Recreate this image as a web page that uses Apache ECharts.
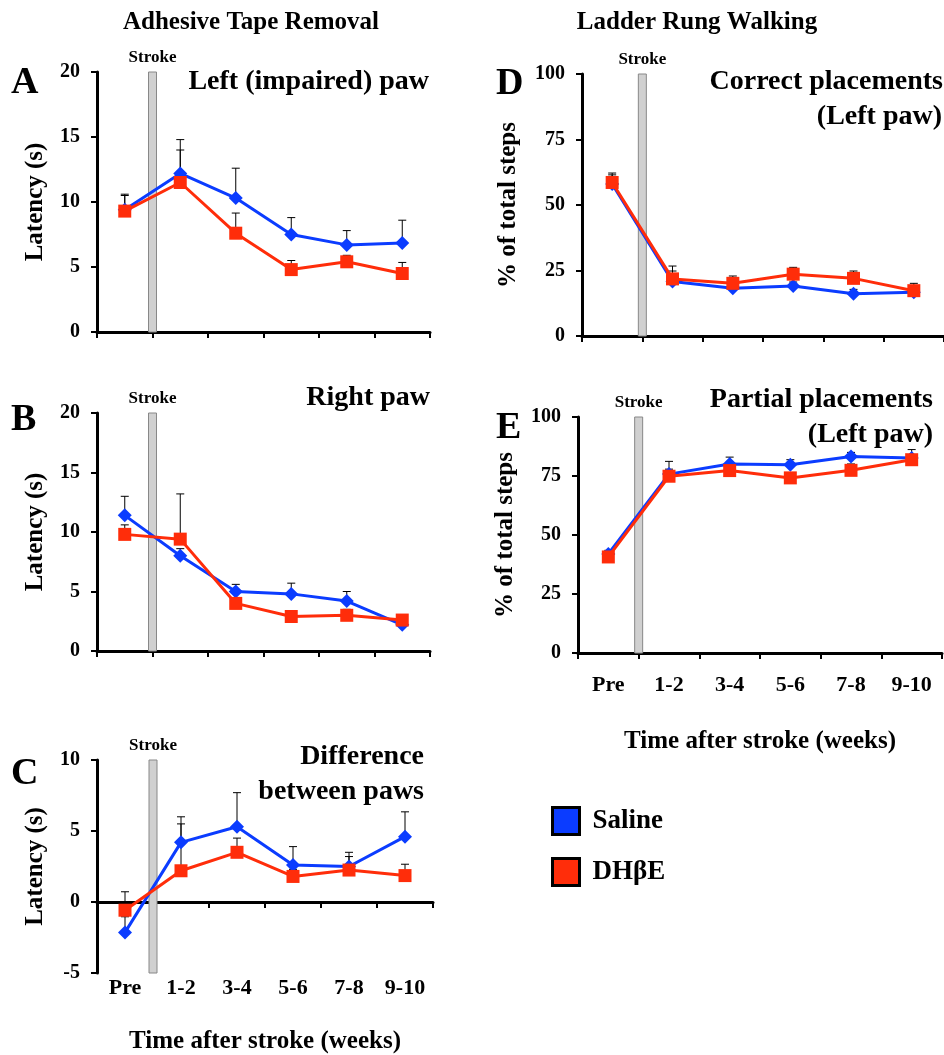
<!DOCTYPE html>
<html lang="en">
<head>
    <meta charset="UTF-8">
    <title>Stroke recovery</title>
    <script src="https://cdn.jsdelivr.net/npm/echarts@6/dist/echarts.min.js"></script>
    <style>
        body { margin: 0; background: #fff; }
    </style>
</head>
<body>
    <div id="main" style="width: 944px; height: 1055px;"></div>
    <script>
    // categories (weeks after stroke)
    var categories = ['Pre', '1-2', '3-4', '5-6', '7-8', '9-10'];
    var strokeAt = 1; // stroke falls between Pre and 1-2

    // A - adhesive tape removal, left (impaired) paw
    var aSaline = [9.4, 12.2, 10.3, 7.5, 6.7, 6.85];
    var aSalineErr = [1.2, 2.6, 2.3, 1.3, 1.1, 1.75];
    var aDhbe = [9.3, 11.5, 7.6, 4.8, 5.4, 4.5];
    var aDhbeErr = [1.2, 2.5, 1.55, 0.7, 0.5, 0.85];

    // B - right paw
    var bSaline = [11.4, 8.0, 5.0, 4.8, 4.2, 2.2];
    var bSalineErr = [1.6, 0.6, 0.6, 0.9, 0.8, 0.3];
    var bDhbe = [9.8, 9.4, 4.0, 2.9, 3.0, 2.6];
    var bDhbeErr = [0.8, 3.8, 0.4, 0.3, 0.5, 0.3];

    // C - difference between paws
    var cSaline = [-2.14, 4.2, 5.3, 2.6, 2.5, 4.6];
    var cSalineErr = [1.1, 1.8, 2.4, 1.3, 1.0, 1.75];
    var cDhbe = [-0.58, 2.2, 3.5, 1.8, 2.25, 1.86];
    var cDhbeErr = [1.3, 3.3, 1.0, 0.5, 0.95, 0.8];

    // D - ladder rung, correct placements
    var dSaline = [58, 20.8, 18.2, 19.1, 16.1, 16.7];
    var dSalineErr = [3.5, 4, 1.2, 1.5, 1.7, 2];
    var dDhbe = [58.6, 21.8, 20.1, 23.6, 22.0, 17.3];
    var dDhbeErr = [3.6, 4.9, 2.8, 2.6, 2.8, 2.8];

    // E - ladder rung, partial placements
    var eSaline = [42, 75.8, 80.1, 79.8, 83.3, 82.6];
    var eSalineErr = [1.5, 5.4, 2.9, 2.1, 1.7, 3.6];
    var eDhbe = [40.7, 74.9, 77.3, 74.2, 77.4, 81.9];
    var eDhbeErr = [1.5, 3, 1.5, 1.5, 2.7, 2];

    var seriesNames = ['Saline', 'DH\u03b2E'];
    var serif = '"Liberation Serif", "DejaVu Serif", serif';
    var blue = '#0b3cff';
    var red = '#ff2d0a';

    var panels = [
        { grid: { left: 97, top: 72, width: 333, height: 260 }, min: 0, max: 20, step: 5,
          s: aSaline, se: aSalineErr, d: aDhbe, de: aDhbeErr, yName: 'Latency (s)', yGap: 49 },
        { grid: { left: 97, top: 413, width: 333, height: 238 }, min: 0, max: 20, step: 5,
          s: bSaline, se: bSalineErr, d: bDhbe, de: bDhbeErr, yName: 'Latency (s)', yGap: 49 },
        { grid: { left: 97, top: 760, width: 336, height: 215 }, min: -5, max: 10, step: 5,
          s: cSaline, se: cSalineErr, d: cDhbe, de: cDhbeErr, yName: 'Latency (s)', yGap: 49,
          labels: true, labelMargin: 4, xGap: 56 },
        { grid: { left: 582, top: 74, width: 368, height: 262 }, min: 0, max: 100, step: 25,
          s: dSaline, se: dSalineErr, d: dDhbe, de: dDhbeErr, yName: '% of total steps', yGap: 61 },
        { grid: { left: 578, top: 417, width: 364, height: 236 }, min: 0, max: 100, step: 25,
          s: eSaline, se: eSalineErr, d: eDhbe, de: eDhbeErr, yName: '% of total steps', yGap: 60,
          labels: true, labelMargin: 21, xGap: 76 }
    ];

    function strokeItem(params, api) {
        var bottom = api.coord([api.value(0), api.value(1)]);
        var top = api.coord([api.value(0), api.value(2)]);
        return {
            type: 'group',
            children: [{
                type: 'rect',
                shape: { x: bottom[0] - 4, y: top[1], width: 8, height: bottom[1] - top[1] },
                style: { fill: '#d0d0d0', stroke: '#888', lineWidth: 1 }
            }, {
                type: 'text',
                style: { text: 'Stroke', x: bottom[0], y: top[1] - 6, align: 'center', verticalAlign: 'bottom',
                         font: 'bold 17px ' + serif, fill: '#000' }
            }]
        };
    }

    function errItem(params, api) {
        var p = api.coord([api.value(0), api.value(1)]);
        var t = api.coord([api.value(0), api.value(1) + api.value(2)]);
        return {
            type: 'group',
            children: [{
                type: 'line',
                shape: { x1: p[0], y1: p[1], x2: t[0], y2: t[1] },
                style: { stroke: '#000', lineWidth: 1 }
            }, {
                type: 'line',
                shape: { x1: t[0] - 4, y1: t[1], x2: t[0] + 4, y2: t[1] },
                style: { stroke: '#000', lineWidth: 1 }
            }]
        };
    }

    var grids = [], xAxes = [], yAxes = [], series = [];
    panels.forEach(function (p, i) {
        grids.push(p.grid);
        var catIdx = xAxes.length;
        xAxes.push({
            type: 'category', gridIndex: i, data: categories, boundaryGap: true,
            axisLine: { onZero: true, lineStyle: { color: '#000', width: 3 } },
            axisTick: { show: true, length: 6, lineStyle: { color: '#000', width: 2 } },
            axisLabel: { show: false }
        });
        var valIdx = xAxes.length;
        xAxes.push({ type: 'value', gridIndex: i, min: 0, max: categories.length, show: false });
        if (p.labels) {
            xAxes.push({
                type: 'category', gridIndex: i, data: categories, position: 'bottom',
                axisLine: { show: false, onZero: false }, axisTick: { show: false },
                axisLabel: { show: true, margin: p.labelMargin, color: '#000',
                             fontFamily: serif, fontWeight: 'bold', fontSize: 22 },
                name: 'Time after stroke (weeks)', nameLocation: 'middle', nameGap: p.xGap,
                nameTextStyle: { color: '#000', fontFamily: serif, fontWeight: 'bold', fontSize: 25 }
            });
        }
        yAxes.push({
            type: 'value', gridIndex: i, min: p.min, max: p.max, interval: p.step,
            axisLine: { show: true, lineStyle: { color: '#000', width: 3 } },
            axisTick: { show: true, length: 6, lineStyle: { color: '#000', width: 2 } },
            splitLine: { show: false },
            axisLabel: { color: '#000', fontFamily: serif, fontWeight: 'bold', fontSize: 20, margin: 17 },
            name: p.yName, nameLocation: 'middle', nameGap: p.yGap, nameRotate: 90,
            nameTextStyle: { color: '#000', fontFamily: serif, fontWeight: 'bold', fontSize: 25 }
        });
        series.push({
            type: 'custom', xAxisIndex: valIdx, yAxisIndex: i, z: 1,
            renderItem: strokeItem, data: [[strokeAt, p.min, p.max]], silent: true
        });
        [[p.s, p.se], [p.d, p.de]].forEach(function (pair) {
            series.push({
                type: 'custom', xAxisIndex: catIdx, yAxisIndex: i, z: 2, silent: true,
                renderItem: errItem,
                data: pair[0].map(function (v, j) { return [j, v, pair[1][j]]; })
            });
        });
        series.push({
            name: seriesNames[0], type: 'line', xAxisIndex: catIdx, yAxisIndex: i, z: 3,
            data: p.s, symbol: 'diamond', symbolSize: 14,
            itemStyle: { color: blue }, lineStyle: { color: blue, width: 3 }
        });
        series.push({
            name: seriesNames[1], type: 'line', xAxisIndex: catIdx, yAxisIndex: i, z: 4,
            data: p.d, symbol: 'rect', symbolSize: 13,
            itemStyle: { color: red }, lineStyle: { color: red, width: 3 }
        });
    });

    function txt(str, x, y, size, align) {
        return {
            type: 'text', x: x, y: y,
            style: { text: str, align: align || 'left', verticalAlign: 'middle',
                     font: 'bold ' + size + 'px ' + serif, fill: '#000' }
        };
    }

    var myChart = echarts.init(document.getElementById('main'));
    var option = {
        animation: false,
        backgroundColor: '#fff',
        grid: grids,
        xAxis: xAxes,
        yAxis: yAxes,
        legend: {
            data: seriesNames, orient: 'vertical', left: 546, top: 801,
            icon: 'rect', itemWidth: 27, itemHeight: 27, itemGap: 21, selectedMode: false,
            itemStyle: { borderColor: '#000', borderWidth: 3 },
            textStyle: { color: '#000', fontFamily: serif, fontWeight: 'bold', fontSize: 27, padding: [0, 0, 0, 8] }
        },
        graphic: [
            txt('Adhesive Tape Removal', 251, 23, 25, 'center'),
            txt('Ladder Rung Walking', 697, 23, 25, 'center'),
            txt('A', 11, 83, 38), txt('B', 11, 420, 38), txt('C', 11, 774, 38),
            txt('D', 496, 84, 38), txt('E', 496, 428, 38),
            txt('Left (impaired) paw', 429, 82, 28, 'right'),
            txt('Right paw', 430, 398, 28, 'right'),
            txt('Difference', 424, 757, 28, 'right'),
            txt('between paws', 424, 792, 28, 'right'),
            txt('Correct placements', 943, 82, 28, 'right'),
            txt('(Left paw)', 942, 117, 28, 'right'),
            txt('Partial placements', 933, 400, 28, 'right'),
            txt('(Left paw)', 933, 435, 28, 'right')
        ],
        series: series
    };
    myChart.setOption(option);
    </script>
</body>
</html>
